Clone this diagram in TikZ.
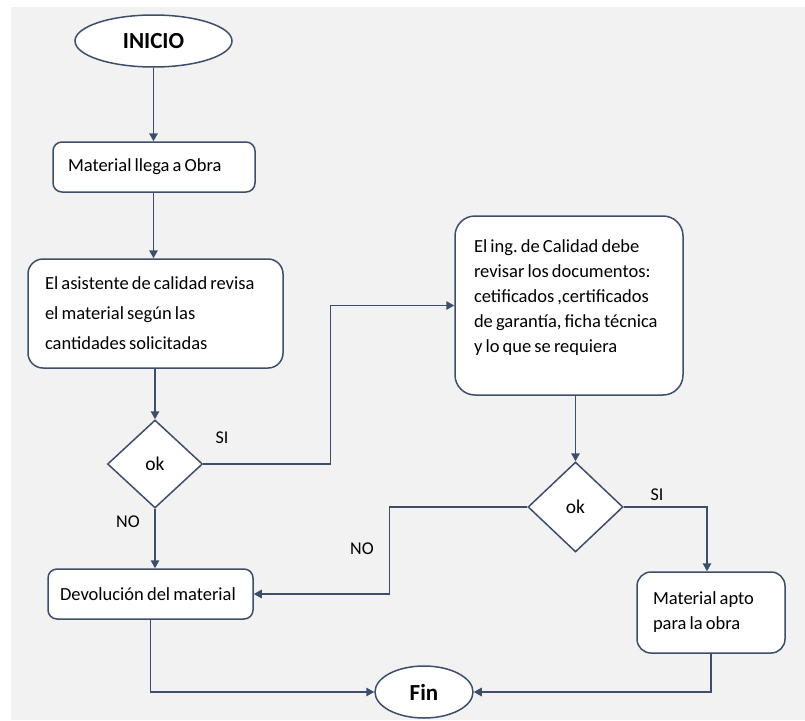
\documentclass[tikz,border=0pt]{standalone}
\usepackage{fontspec}
\setmainfont{Carlito}[WordSpace=0.75]
\usetikzlibrary{shapes.geometric,arrows.meta}
\definecolor{linea}{RGB}{62,78,104}
\definecolor{fondo}{RGB}{242,242,242}
\tikzset{
    caja/.style={draw=linea,line width=1.5pt,fill=white,rounded corners=9pt,align=flush left,font=\fontsize{18.5}{25}\selectfont},
    elipse/.style={draw=linea,line width=1.5pt,fill=white,ellipse,minimum width=157pt,minimum height=52pt,inner sep=0pt,font=\fontsize{23}{26}\selectfont\bfseries},
    rombo/.style={draw=linea,line width=1.5pt,fill=white,diamond,inner sep=0pt,font=\fontsize{19.5}{20}\selectfont},
    flecha/.style={draw=linea,line width=1.5pt,-{Triangle[length=8pt,width=8.5pt]}},
    etiqueta/.style={font=\fontsize{18}{20}\selectfont}
}
\begin{document}
\begin{tikzpicture}[x=1pt,y=-1pt]
    \useasboundingbox (0,0) rectangle (805,720);
    \fill[fondo] (11,7) rectangle (805,720);
    \node[elipse] (inicio) at (153.5,41) {INICIO};
    \node[caja,text width=172pt,inner xsep=15pt,minimum height=50pt] (llega) at (154,167) {Material llega a Obra};
    \node[caja,rounded corners=15pt,text width=221pt,inner xsep=17pt,minimum height=109pt,font=\fontsize{18.5}{30}\selectfont] (asist) at (155.5,313.5)
        {El asistente de calidad revisa\\el material según las\\cantidades solicitadas};
    \node[rombo,minimum width=95pt,minimum height=88pt] (ok1) at (155,464) {ok};
    \node[caja,rounded corners=20pt,inner sep=0pt,minimum width=228pt,minimum height=179pt] (ing) at (569,305.5)
        {\parbox[c][132pt][t]{190pt}{El ing.\ de Calidad debe\\revisar los documentos:\\cetificados ,certificados\\de garantía, ficha técnica\\y lo que se requiera}};
    \node[rombo,minimum width=95pt,minimum height=90pt] (ok2) at (575.5,507) {ok};
    \node[caja,text width=181pt,inner xsep=12pt,minimum height=50pt] (devol) at (150.5,594) {Devolución del material};
    \node[caja,rounded corners=14pt,text width=116pt,inner xsep=16pt,minimum height=81pt] (apto) at (711,612.5) {Material apto\\para la obra};
    \node[elipse,minimum width=98pt] (fin) at (424,692) {Fin};
    \draw[flecha] (inicio) -- (inicio |- llega.north);
    \draw[flecha] (llega.south -| inicio) -- (inicio |- asist.north);
    \draw[flecha] (ok1 |- asist.south) -- (ok1.north);
    \draw[flecha] (ok1.east) -- ++(127,0) |- (ing.west);
    \draw[flecha] (ok2 |- ing.south) -- (ok2.north);
    \draw[flecha] (ok2.east) -| ([xshift=-4pt]apto.north);
    \draw[flecha] (ok2.west) -- ++(-138,0) |- (devol.east);
    \draw[flecha] (ok1.south) -- (ok1 |- devol.north);
    \draw[flecha] (devol.south) |- (fin.west);
    \draw[flecha] (apto.south) |- (fin.east);
    \node[etiqueta] (si1) at (222,438) {SI};
    \node[etiqueta] (no1) at (128,522) {NO};
    \node[etiqueta] (si2) at (657,495) {SI};
    \node[etiqueta] (no2) at (362,549) {NO};
\end{tikzpicture}
\end{document}
